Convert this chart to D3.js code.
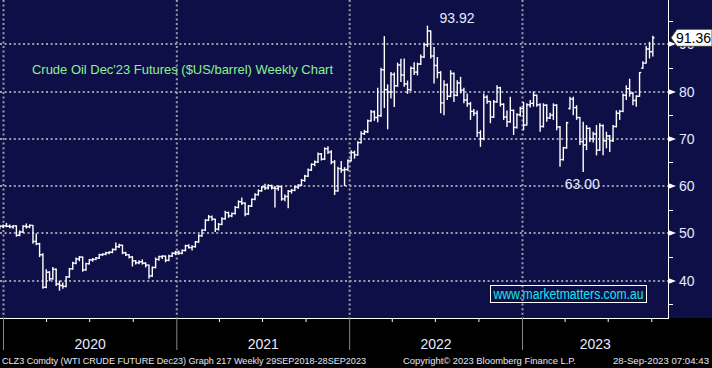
<!DOCTYPE html>
<html>
<head>
<meta charset="utf-8">
<script src="https://cdn.jsdelivr.net/npm/d3@7"></script>
<style>
  html, body { margin: 0; padding: 0; background: #000; }
  svg { display: block; font-family: "Liberation Sans", Arial, sans-serif; }
</style>
</head>
<body>
<div id="chart"></div>
<script>
// weekly bars, first one is the week ending 20 Dec 2019
const firstWeek = "2019-12-20";

const opens = [
  51.2,51.5,51.6,51.5,51.4,51.6,49.6,50.3,51.5,51.4,
  51.7,48.3,47.8,45.5,38.6,41.8,40.4,42.4,39.3,39.0,
  38.8,40.8,42.5,43.7,44.6,45.0,42.3,43.6,44.4,44.5,
  44.8,45.5,45.6,45.9,46.0,46.6,47.2,47.5,45.9,45.5,
  45.0,44.2,43.8,44.0,43.7,43.3,41.0,42.8,44.5,45.1,
  45.2,44.3,45.2,45.8,46.0,45.8,46.4,47.4,47.0,47.2,
  48.2,49.5,50.7,52.8,53.5,53.0,50.9,51.9,53.1,54.4,
  53.7,54.2,55.5,56.7,56.4,54.1,55.8,57.2,58.2,59.0,
  59.8,59.6,60.1,59.6,59.5,59.9,57.3,57.8,58.9,59.1,
  59.8,60.2,61.2,62.1,63.4,64.6,65.1,66.8,65.7,67.9,
  67.2,65.1,59.0,63.7,63.4,63.5,65.4,67.1,66.6,69.2,
  71.1,71.5,73.8,75.7,74.5,74.9,84.6,80.4,79.9,83.6,
  81.2,85.6,83.5,81.6,80.4,84.9,84.1,85.8,87.3,89.9,
  92.8,87.5,85.5,84.0,77.6,81.4,79.0,83.8,79.2,81.8,
  80.3,78.2,77.4,75.8,75.4,71.3,70.0,78.8,77.9,74.6,
  77.8,80.8,77.3,74.6,73.6,76.0,72.4,75.1,76.4,72.9,
  77.2,77.5,79.2,77.2,72.6,77.1,74.4,75.0,77.1,72.5,
  65.6,68.1,76.4,78.4,76.6,74.5,69.4,68.7,72.2,70.0,
  71.0,67.6,72.8,69.6,70.6,69.6,72.6,75.4,75.8,79.2,
  80.6,79.6,78.1,79.0,84.9,86.0,89.0,88.4
];
const highs = [
  51.8,51.9,52.2,51.9,51.8,51.7,50.6,51.7,52.1,51.9,
  51.8,50.0,48.0,45.8,42.4,42.0,42.9,42.6,40.0,39.6,
  41.0,42.7,44.0,44.9,45.2,45.1,43.8,44.6,44.8,45.0,
  45.7,45.8,46.1,46.2,46.8,48.1,47.8,47.6,46.1,45.6,
  45.2,44.4,44.3,44.5,43.9,43.4,43.0,44.9,45.3,45.4,
  45.3,45.5,46.0,46.3,46.4,46.6,47.6,47.7,47.5,48.4,
  49.8,50.9,53.0,53.9,53.8,53.1,52.2,53.4,54.8,54.6,
  54.4,55.8,57.0,57.6,56.6,56.0,57.4,58.5,59.3,60.0,
  60.5,60.4,60.3,60.0,60.2,60.0,58.2,59.2,59.4,60.1,
  60.4,61.5,62.4,63.7,64.8,65.4,67.1,67.0,68.2,68.4,
  67.6,65.5,64.1,65.3,64.0,65.6,67.6,67.5,69.5,71.6,
  71.9,74.1,76.1,76.0,80.8,85.0,91.7,81.5,84.1,84.0,
  86.1,86.9,87.0,82.3,85.3,86.2,86.1,87.8,90.3,93.92,
  92.9,89.4,87.3,84.3,82.4,81.7,84.5,84.0,82.4,83.1,
  80.8,79.6,77.8,76.3,76.0,71.8,79.6,79.2,78.0,78.2,
  81.3,81.0,77.5,76.0,78.9,76.2,75.4,76.8,77.8,77.5,
  78.2,80.0,79.3,77.5,77.5,77.3,75.5,77.5,77.3,72.7,
  68.3,73.6,78.9,78.9,77.1,74.6,73.6,72.9,72.4,71.5,
  72.9,73.3,73.0,71.5,70.8,72.9,76.0,76.1,79.6,81.3,
  82.7,79.9,79.2,84.1,86.4,89.6,90.5,91.8
];
const lows = [
  50.9,51.1,51.3,51.1,51.0,49.3,49.4,50.1,51.0,51.1,
  47.8,47.5,45.0,38.3,38.4,39.9,40.2,38.9,37.9,38.3,
  38.6,40.6,42.3,43.5,44.1,41.9,42.1,43.4,44.0,44.3,
  44.6,45.2,45.4,45.6,45.8,46.4,46.9,45.6,45.2,44.7,
  43.0,43.4,43.5,43.4,42.8,40.4,40.8,42.6,44.2,44.6,
  43.9,44.1,45.0,45.4,45.5,45.6,46.2,46.8,46.4,47.0,
  48.0,49.3,50.5,52.6,52.7,50.3,50.6,51.7,52.9,53.3,
  53.4,54.0,55.3,56.0,53.6,53.9,55.6,57.0,58.0,58.8,
  59.2,59.3,59.3,55.5,59.0,56.9,56.8,55.3,58.4,58.9,
  59.4,60.0,60.9,61.9,63.2,64.2,64.9,65.4,65.5,66.8,
  64.6,58.1,58.8,62.8,60.0,63.2,65.2,65.8,66.4,69.0,
  70.8,71.2,73.6,73.8,73.5,74.6,76.5,72.0,78.5,76.7,
  81.0,82.0,81.0,79.5,80.1,83.5,83.4,85.6,87.1,89.4,
  87.0,81.7,82.8,75.4,75.0,78.2,78.8,77.8,79.0,79.6,
  77.5,76.8,74.0,74.8,70.4,68.3,69.7,77.4,73.3,74.4,
  77.6,76.8,74.0,72.5,73.4,70.8,72.2,74.7,71.8,72.8,
  76.6,76.8,76.8,71.5,72.4,73.6,74.2,74.0,71.8,64.1,
  65.4,67.9,76.2,75.0,74.0,68.7,63.0,67.6,69.3,69.2,
  66.5,67.4,66.5,68.0,67.2,69.3,72.4,74.0,75.6,78.2,
  78.9,77.1,76.8,78.9,84.8,85.9,87.0,87.4
];
const closes = [
  51.5,51.6,51.5,51.4,51.6,49.6,50.3,51.5,51.4,51.7,
  48.3,47.8,45.5,38.6,41.8,40.4,42.4,39.3,39.0,38.8,
  40.8,42.5,43.7,44.6,45.0,42.3,43.6,44.4,44.5,44.8,
  45.5,45.6,45.9,46.0,46.6,47.2,47.5,45.9,45.5,45.0,
  44.2,43.8,44.0,43.7,43.3,41.0,42.8,44.5,45.1,45.2,
  44.3,45.2,45.8,46.0,45.8,46.4,47.4,47.0,47.2,48.2,
  49.5,50.7,52.8,53.5,53.0,50.9,51.9,53.1,54.4,53.7,
  54.2,55.5,56.7,56.4,54.1,55.8,57.2,58.2,59.0,59.8,
  59.6,60.1,59.6,59.5,59.9,57.3,57.8,58.9,59.1,59.8,
  60.2,61.2,62.1,63.4,64.6,65.1,66.8,65.7,67.9,67.2,
  65.1,59.0,63.7,63.4,63.5,65.4,67.1,66.6,69.2,71.1,
  71.5,73.8,75.7,74.5,74.9,84.6,80.4,79.9,83.6,81.2,
  85.6,83.5,81.6,80.4,84.9,84.1,85.8,87.3,89.9,92.8,
  87.5,85.5,84.0,77.6,81.4,79.0,83.8,79.2,81.8,80.3,
  78.2,77.4,75.8,75.4,71.3,70.0,78.8,77.9,74.6,77.8,
  80.8,77.3,74.6,73.6,76.0,72.4,75.1,76.4,72.9,77.2,
  77.5,79.2,77.2,72.6,77.1,74.4,75.0,77.1,72.5,65.6,
  68.1,73.4,78.4,76.6,74.5,69.4,68.7,72.2,70.0,71.0,
  67.6,72.8,69.6,70.6,69.6,72.6,75.4,75.8,79.2,80.6,
  79.6,78.1,79.0,84.0,86.0,89.0,88.4,91.36
];

const yMajor = [40, 50, 60, 70, 80, 90];
const yMinor = [35, 45, 55, 65, 75, 85, 95];
const yearLabels = ["2020", "2021", "2022", "2023"];

const titleText = "Crude Oil Dec'23 Futures ($US/barrel) Weekly Chart";
const siteText = "www.marketmatters.com.au";
const footLeft = "CLZ3 Comdty (WTI CRUDE FUTURE  Dec23) Graph 217  Weekly 29SEP2018-28SEP2023";
const footMid = "Copyright\u00a9 2023 Bloomberg Finance L.P.";
const footRight = "28-Sep-2023 07:04:43";

const W = 712, H = 368;
const plotRight = 668, plotBottom = 318;
const navy = "#0f0f48";
const gridColor = "#9c9caa";
const labelColor = "#e6eaff";

const start = new Date(firstWeek + "T00:00:00Z");
const bars = closes.map((c, i) => ({
  date: d3.utcWeek.offset(start, i),
  o: opens[i], h: highs[i], l: lows[i], c
}));

const x = d3.scaleUtc()
  .domain([new Date(Date.UTC(2020, 0, 1)), new Date(Date.UTC(2023, 0, 1))])
  .range([3.5, 522.5]);
const y = d3.scaleLinear().domain([40, 90]).range([280.7, 44.2]);
const barNudge = 2;

const svg = d3.select("#chart").append("svg")
  .attr("width", W).attr("height", H)
  .attr("viewBox", [0, 0, W, H]);

svg.append("rect").attr("width", W).attr("height", H).attr("fill", "#000");
svg.append("rect").attr("width", W).attr("height", plotBottom).attr("fill", navy);

// dotted grid
const yearStarts = yearLabels.map(s => new Date(Date.UTC(+s, 0, 1)));
const grid = svg.append("g")
  .attr("stroke", gridColor).attr("stroke-width", 2)
  .attr("stroke-dasharray", "2,2.6");
grid.selectAll("line.h").data(yMajor).join("line")
  .attr("x1", 0).attr("x2", plotRight)
  .attr("y1", d => Math.round(y(d))).attr("y2", d => Math.round(y(d)));
grid.selectAll("line.v").data(yearStarts).join("line")
  .attr("x1", d => x(d)).attr("x2", d => x(d))
  .attr("y1", 0).attr("y2", plotBottom);

// OHLC bars
svg.append("clipPath").attr("id", "plotclip")
  .append("rect").attr("width", plotRight).attr("height", plotBottom);
const bg = svg.append("g").attr("clip-path", "url(#plotclip)")
  .attr("stroke", "#fff").attr("stroke-width", 1.4);
const bx = d => x(d.date) + barNudge;
bg.selectAll("line.hl").data(bars).join("line")
  .attr("x1", bx).attr("x2", bx)
  .attr("y1", d => y(d.h)).attr("y2", d => y(d.l));
bg.selectAll("line.op").data(bars).join("line")
  .attr("x1", d => bx(d) - 1.7).attr("x2", bx)
  .attr("y1", d => y(d.o)).attr("y2", d => y(d.o));
bg.selectAll("line.cl").data(bars).join("line")
  .attr("x1", bx).attr("x2", d => bx(d) + 1.7)
  .attr("y1", d => y(d.c)).attr("y2", d => y(d.c));

// right axis
svg.append("line").attr("x1", plotRight + 0.5).attr("x2", plotRight + 0.5)
  .attr("y1", 0).attr("y2", plotBottom).attr("stroke", "#fff");
svg.selectAll("line.minor").data(yMinor).join("line")
  .attr("x1", plotRight).attr("x2", plotRight + 5)
  .attr("y1", d => Math.round(y(d)) + 0.5).attr("y2", d => Math.round(y(d)) + 0.5)
  .attr("stroke", "#fff");
svg.selectAll("path.mark").data(yMajor).join("path")
  .attr("d", d => {
    const yy = Math.round(y(d));
    return `M${plotRight},${yy - 3}L${plotRight + 8},${yy}L${plotRight},${yy + 3}Z`;
  })
  .attr("fill", "#fff");
svg.selectAll("text.ylab").data(yMajor).join("text")
  .attr("x", plotRight + 11).attr("y", d => y(d) + 5)
  .attr("fill", labelColor).attr("font-size", 14)
  .text(d => d);

// last price tag
const last = bars[bars.length - 1];
const ly = y(last.c);
svg.append("path")
  .attr("d", `M${plotRight + 3},${ly}L${plotRight + 9},${ly - 8.5}L${W},${ly - 8.5}L${W},${ly + 8.5}L${plotRight + 9},${ly + 8.5}Z`)
  .attr("fill", "#fff").attr("stroke", "#333").attr("stroke-width", 0.8);
svg.append("text").attr("x", plotRight + 8).attr("y", ly + 5)
  .attr("fill", "#000").attr("font-size", 14)
  .text(d3.format(".2f")(last.c));

// bottom axis
svg.append("line").attr("x1", 0).attr("x2", plotRight + 1)
  .attr("y1", plotBottom + 0.5).attr("y2", plotBottom + 0.5).attr("stroke", "#fff");
const quarters = d3.utcMonth.every(3)
  .range(new Date(Date.UTC(2020, 0, 1)), new Date(Date.UTC(2023, 9, 2)))
  .filter(d => d.getUTCMonth() !== 0);
svg.selectAll("line.qt").data(quarters).join("line")
  .attr("x1", d => x(d)).attr("x2", d => x(d))
  .attr("y1", plotBottom).attr("y2", plotBottom + 4)
  .attr("stroke", "#fff");
svg.selectAll("line.yt").data(yearStarts).join("line")
  .attr("x1", d => x(d)).attr("x2", d => x(d))
  .attr("y1", plotBottom).attr("y2", plotBottom + 32)
  .attr("stroke", "#8a8a8a").attr("stroke-width", 1);
svg.selectAll("text.year").data(yearLabels).join("text")
  .attr("x", (d, i) => {
    const a = x(yearStarts[i]);
    const b = i < yearLabels.length - 1 ? x(yearStarts[i + 1]) : plotRight;
    return (a + b) / 2;
  })
  .attr("y", 349).attr("text-anchor", "middle")
  .attr("fill", labelColor).attr("font-size", 14)
  .text(d => d);

// high since start, low after that high
const hiIdx = d3.maxIndex(highs);
const loIdx = hiIdx + d3.minIndex(lows.slice(hiIdx));
svg.append("text").attr("x", bx(bars[hiIdx]) + 12).attr("y", y(highs[hiIdx]) - 3)
  .attr("fill", labelColor).attr("font-size", 14)
  .text(d3.format(".2f")(highs[hiIdx]));
svg.append("text").attr("x", bx(bars[loIdx]) - 1).attr("y", y(lows[loIdx]) + 17)
  .attr("text-anchor", "middle")
  .attr("fill", labelColor).attr("font-size", 14)
  .text(d3.format(".2f")(lows[loIdx]));

svg.append("text").attr("x", 32).attr("y", 74)
  .attr("fill", "#8cf28c").attr("font-size", 13.5)
  .attr("textLength", 301).attr("lengthAdjust", "spacingAndGlyphs")
  .text(titleText);

svg.append("rect").attr("x", 490.5).attr("y", 285.5)
  .attr("width", 156).attr("height", 17)
  .attr("fill", "none").attr("stroke", "#fff");
svg.append("text").attr("x", 568.5).attr("y", 299)
  .attr("text-anchor", "middle")
  .attr("fill", "#19e6ec").attr("font-size", 14)
  .attr("textLength", 150).attr("lengthAdjust", "spacingAndGlyphs")
  .text(siteText);

// footer
const foot = svg.append("g").attr("fill", "#e4e6f4").attr("font-size", 9);
foot.append("text").attr("x", 2).attr("y", 364)
  .attr("textLength", 364).attr("lengthAdjust", "spacingAndGlyphs").text(footLeft);
foot.append("text").attr("x", 403).attr("y", 364)
  .attr("textLength", 173).attr("lengthAdjust", "spacingAndGlyphs").text(footMid);
foot.append("text").attr("x", 613).attr("y", 364)
  .attr("textLength", 96).attr("lengthAdjust", "spacingAndGlyphs").text(footRight);
</script>
</body>
</html>
